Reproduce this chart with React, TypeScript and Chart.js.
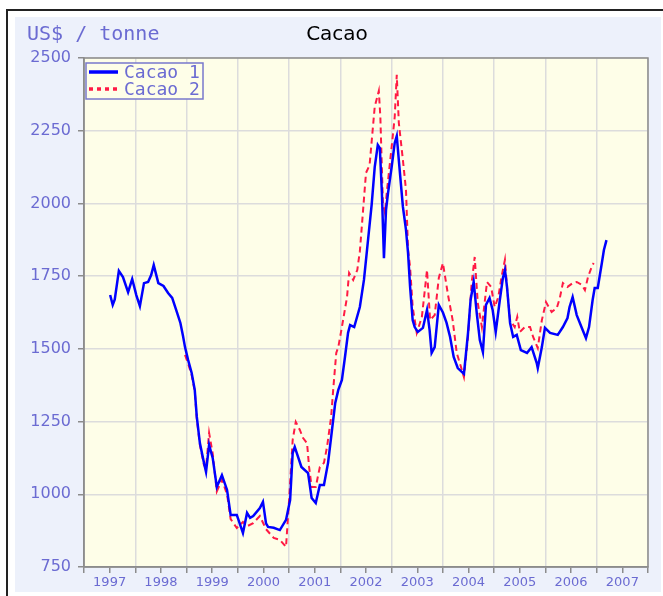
import React, { useEffect, useRef } from "react";
import { Chart, registerables } from "chart.js";

Chart.register(...registerables);

// ---- data (decimal years, US$ / tonne) ----
const cacao1Dates = [
  1997.51, 1997.56, 1997.6, 1997.68, 1997.76, 1997.86, 1997.94, 1998.02, 1998.09, 1998.17,
  1998.25, 1998.31, 1998.36, 1998.45, 1998.55, 1998.64, 1998.72, 1998.81, 1998.88, 1998.93,
  1998.97, 1999.03, 1999.1, 1999.16, 1999.2, 1999.26, 1999.34, 1999.38, 1999.44, 1999.51,
  1999.59, 1999.69, 1999.79, 1999.86, 1999.98, 2000.1, 2000.18, 2000.24, 2000.3, 2000.43,
  2000.49, 2000.55, 2000.59, 2000.7, 2000.82, 2000.94, 2001.02, 2001.07, 2001.11, 2001.24,
  2001.37, 2001.44, 2001.52, 2001.6, 2001.68, 2001.76, 2001.83, 2001.9, 2001.96, 2002.03,
  2002.09, 2002.15, 2002.19, 2002.27, 2002.38, 2002.46, 2002.52, 2002.61, 2002.67, 2002.73,
  2002.77, 2002.81, 2002.85, 2002.89, 2002.93, 2003.0, 2003.06, 2003.1, 2003.14, 2003.22,
  2003.28, 2003.32, 2003.36, 2003.41, 2003.45, 2003.51, 2003.61, 2003.69, 2003.74, 2003.78,
  2003.84, 2003.92, 2004.0, 2004.07, 2004.14, 2004.21, 2004.29, 2004.41, 2004.49, 2004.54,
  2004.6, 2004.66, 2004.72, 2004.78, 2004.84, 2004.91, 2004.97, 2005.03, 2005.11, 2005.17,
  2005.21, 2005.25, 2005.31, 2005.37, 2005.44, 2005.52, 2005.64, 2005.73, 2005.83, 2005.85,
  2005.93, 2005.99, 2006.09, 2006.24, 2006.34, 2006.43, 2006.47, 2006.53, 2006.61, 2006.71,
  2006.79, 2006.85, 2006.92, 2006.96, 2007.02, 2007.1, 2007.14, 2007.19,
];
const cacao1Values = [
  1685, 1651, 1670, 1768, 1747, 1695, 1740, 1685, 1647, 1726,
  1730, 1754, 1788, 1726, 1716, 1692, 1675, 1627, 1589, 1545,
  1506, 1462, 1417, 1359, 1266, 1176, 1108, 1077, 1170, 1125,
  1025, 1066, 1015, 929, 929, 867, 936, 919, 925, 953,
  974, 900, 888, 885, 877, 912, 980, 1142, 1163, 1094,
  1073, 987, 970, 1032, 1032, 1108, 1211, 1314, 1359, 1393,
  1472, 1555, 1582, 1575, 1644, 1737, 1840, 1995, 2125, 2201,
  2190, 2036, 1812, 1977, 2036, 2125, 2208, 2232, 2149, 1988,
  1909, 1830, 1713, 1599, 1575, 1558, 1572, 1634, 1565, 1486,
  1506, 1651, 1625, 1590, 1541, 1472, 1434, 1414, 1555, 1668,
  1730, 1623, 1530, 1489, 1651, 1675, 1634, 1558, 1668, 1744,
  1771, 1713, 1589, 1541, 1548, 1496, 1486, 1506, 1451, 1434,
  1506, 1572, 1555, 1548, 1575, 1606, 1644, 1678, 1616, 1572,
  1537, 1575, 1668, 1709, 1709, 1795, 1840, 1874,
];

const cacao2Dates = [
  1998.97, 1999.03, 1999.1, 1999.16, 1999.2, 1999.26, 1999.34, 1999.38, 1999.44, 1999.51,
  1999.59, 1999.69, 1999.79, 1999.86, 1999.98, 2000.1, 2000.18, 2000.3, 2000.43, 2000.55,
  2000.7, 2000.82, 2000.94, 2001.0, 2001.07, 2001.13, 2001.21, 2001.27, 2001.35, 2001.39,
  2001.44, 2001.52, 2001.6, 2001.68, 2001.74, 2001.82, 2001.86, 2001.92, 2001.96, 2002.03,
  2002.13, 2002.17, 2002.25, 2002.33, 2002.38, 2002.5, 2002.57, 2002.67, 2002.75, 2002.78,
  2002.83, 2002.87, 2002.91, 2003.0, 2003.06, 2003.1, 2003.14, 2003.22, 2003.28, 2003.32,
  2003.36, 2003.41, 2003.49, 2003.59, 2003.69, 2003.75, 2003.84, 2003.92, 2004.0, 2004.1,
  2004.19, 2004.27, 2004.33, 2004.41, 2004.49, 2004.56, 2004.62, 2004.68, 2004.76, 2004.86,
  2004.94, 2005.01, 2005.08, 2005.15, 2005.21, 2005.25, 2005.31, 2005.4, 2005.45, 2005.5,
  2005.6, 2005.7, 2005.76, 2005.85, 2005.93, 2006.01, 2006.12, 2006.22, 2006.28, 2006.34,
  2006.43, 2006.53, 2006.61, 2006.71, 2006.77, 2006.83, 2006.9, 2006.94,
];
const cacao2Values = [
  1479, 1450, 1410, 1355, 1260, 1170, 1100, 1090, 1211, 1140,
  1010, 1050, 1000, 915, 884, 905, 890, 901, 925, 880,
  850, 843, 819, 980, 1187, 1249, 1221, 1194, 1176, 1094,
  1025, 1025, 1094, 1108, 1163, 1266, 1359, 1486, 1506, 1575,
  1678, 1761, 1737, 1771, 1835, 2105, 2132, 2332, 2387, 2297,
  2001, 1967, 2046, 2194, 2297, 2442, 2277, 2149, 2046, 1840,
  1781, 1644, 1555, 1610, 1771, 1599, 1616, 1744, 1795, 1685,
  1599, 1486, 1451, 1403, 1541, 1726, 1816, 1658, 1575, 1730,
  1713, 1644, 1678, 1754, 1806, 1713, 1599, 1575, 1610, 1558,
  1575, 1575, 1541, 1503, 1599, 1661, 1627, 1640, 1675, 1726,
  1713, 1726, 1730, 1720, 1702, 1747, 1781, 1795,
];

const seriesNames = ["Cacao 1", "Cacao 2"];
const chartTitle = "Cacao";
const yAxisTitle = "US$ / tonne";
const yMin = 750;
const yMax = 2500;
const yStep = 250;
const xStartYear = 1997;
const xEndYear = 2008;

const TEXT_BLUE = "#6b6bd2";
const PLOT_BG = "#fefee8";
const PAGE_BG = "#edf1fb";
const GRID = "#dcdcdc";
const AXIS = "#8c8c8c";
const BLUE = "#0000ff";
const RED = "#ff1a44";

const decorPlugin = {
  id: "decor",
  beforeDraw(chart: any) {
    const { ctx, chartArea, width, height } = chart;
    ctx.save();
    ctx.fillStyle = "#ffffff";
    ctx.fillRect(0, 0, width, height);
    // outer frame
    ctx.strokeStyle = "#222";
    ctx.lineWidth = 2;
    ctx.beginPath();
    ctx.moveTo(7, height + 5);
    ctx.lineTo(7, 10);
    ctx.lineTo(width + 5, 10);
    ctx.stroke();
    // panel background
    ctx.fillStyle = PAGE_BG;
    ctx.fillRect(15, 17, 646, 575);
    // plot background
    ctx.fillStyle = PLOT_BG;
    ctx.fillRect(chartArea.left, chartArea.top, chartArea.right - chartArea.left, chartArea.bottom - chartArea.top);
    ctx.restore();
  },
  afterDraw(chart: any) {
    const { ctx, chartArea } = chart;
    ctx.save();
    // plot border
    ctx.strokeStyle = AXIS;
    ctx.lineWidth = 1.5;
    ctx.strokeRect(chartArea.left, chartArea.top, chartArea.right - chartArea.left, chartArea.bottom - chartArea.top);
    // titles
    ctx.textBaseline = "middle";
    ctx.fillStyle = TEXT_BLUE;
    ctx.font = "20px 'DejaVu Sans Mono'";
    ctx.textAlign = "left";
    ctx.fillText(yAxisTitle, 27, 35);
    ctx.fillStyle = "#000";
    ctx.font = "20px 'DejaVu Sans'";
    ctx.textAlign = "center";
    ctx.fillText(chartTitle, 337, 35);
    // legend
    const lx = chartArea.left + 2;
    const ly = chartArea.top + 5;
    ctx.fillStyle = PLOT_BG;
    ctx.fillRect(lx, ly, 117, 36);
    ctx.strokeStyle = "#7878cc";
    ctx.lineWidth = 1.5;
    ctx.strokeRect(lx, ly, 117, 36);
    ctx.lineWidth = 3.5;
    ctx.strokeStyle = BLUE;
    ctx.beginPath();
    ctx.moveTo(lx + 3, ly + 9);
    ctx.lineTo(lx + 32, ly + 9);
    ctx.stroke();
    ctx.strokeStyle = RED;
    ctx.setLineDash([4, 4]);
    ctx.beginPath();
    ctx.moveTo(lx + 3, ly + 26);
    ctx.lineTo(lx + 31, ly + 26);
    ctx.stroke();
    ctx.setLineDash([]);
    ctx.fillStyle = TEXT_BLUE;
    ctx.font = "18px 'DejaVu Sans Mono'";
    ctx.textAlign = "left";
    ctx.fillText(seriesNames[0], lx + 38, ly + 10);
    ctx.fillText(seriesNames[1], lx + 38, ly + 27);
    ctx.restore();
  },
};

export default function App() {
  const canvasRef = useRef<HTMLCanvasElement | null>(null);

  useEffect(() => {
    if (!canvasRef.current) return;
    const d1 = cacao1Dates.map((x, i) => ({ x, y: cacao1Values[i] }));
    const d2 = cacao2Dates.map((x, i) => ({ x, y: cacao2Values[i] }));
    const chart = new Chart(canvasRef.current, {
      type: "line",
      data: {
        datasets: [
          {
            label: seriesNames[0],
            data: d1,
            borderColor: BLUE,
            borderWidth: 2.5,
            pointRadius: 0,
            tension: 0,
            fill: false,
          },
          {
            label: seriesNames[1],
            data: d2,
            borderColor: RED,
            borderWidth: 2,
            borderDash: [6, 4],
            pointRadius: 0,
            tension: 0,
            fill: false,
          },
        ],
      },
      options: {
        responsive: false,
        animation: false,
        layout: { padding: { left: 0, right: 15, top: 58, bottom: 0 } },
        plugins: {
          legend: { display: false },
          title: { display: false },
          tooltip: { enabled: false },
        },
        scales: {
          x: {
            type: "linear",
            min: xStartYear,
            max: xEndYear,
            afterFit: (s: any) => {
              s.height = 29;
            },
            afterBuildTicks: (s: any) => {
              const t = [];
              for (let v = xStartYear; v <= xEndYear + 1e-9; v += 0.5) t.push({ value: v });
              s.ticks = t;
            },
            ticks: {
              autoSkip: false,
              maxRotation: 0,
              minRotation: 0,
              padding: 2,
              color: TEXT_BLUE,
              font: { family: "'DejaVu Sans'", size: 13 },
              callback: (v: any) => (Number.isInteger(v) ? "" : String(Math.floor(v))),
            },
            grid: {
              color: (c: any) => (c.tick && Number.isInteger(c.tick.value) ? GRID : "rgba(0,0,0,0)"),
              tickColor: AXIS,
              tickLength: 6,
              lineWidth: 1.5,
            },
            border: { display: true, color: AXIS, width: 1.5 },
          },
          y: {
            type: "linear",
            min: yMin,
            max: yMax,
            afterFit: (s: any) => {
              s.width = 84;
            },
            ticks: {
              stepSize: yStep,
              padding: 7,
              color: TEXT_BLUE,
              font: { family: "'DejaVu Sans'", size: 16 },
              callback: (v: any) => String(v),
            },
            grid: {
              color: GRID,
              tickColor: AXIS,
              tickLength: 6,
              lineWidth: 1.5,
            },
            border: { display: true, color: AXIS, width: 1.5 },
          },
        },
      },
      plugins: [decorPlugin],
    });
    return () => chart.destroy();
  }, []);

  return (
    <div style={{ position: "absolute", left: 0, top: 0, width: 663, height: 596 }}>
      <canvas ref={canvasRef} width={663} height={596} style={{ display: "block" }} />
    </div>
  );
}
